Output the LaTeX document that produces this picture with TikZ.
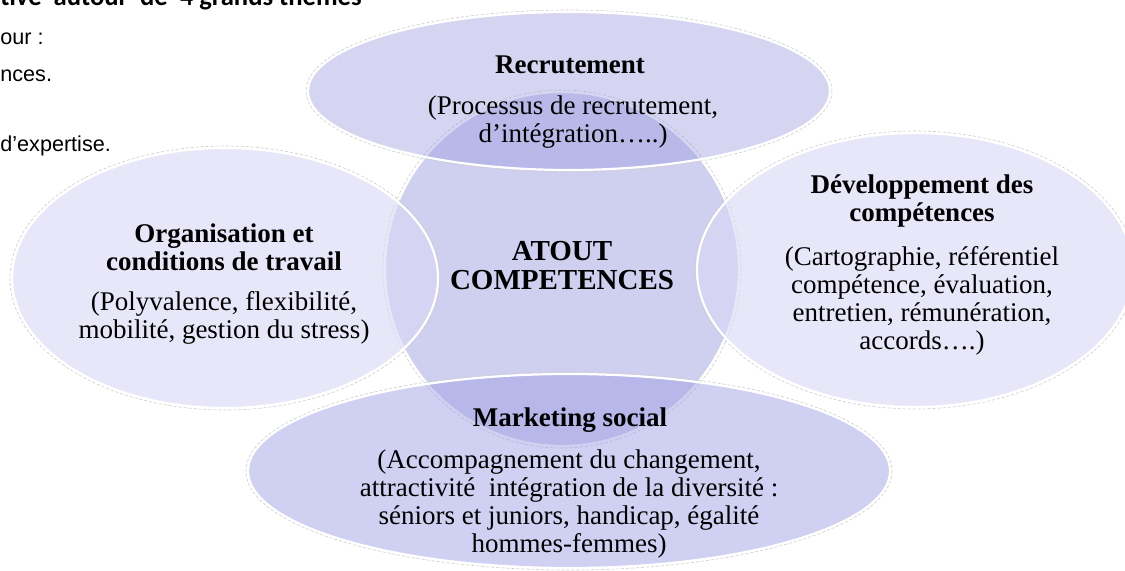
\documentclass[tikz,border=0pt]{standalone}
\usepackage{fontspec}
\setmainfont{Liberation Serif}
\newfontfamily\headfont{Carlito}
\newfontfamily\bodyfont{Liberation Sans}
\usetikzlibrary{shapes.geometric}
\definecolor{circfill}{HTML}{CFCFF0}
\definecolor{topfill}{HTML}{9C9CE0}
\definecolor{sidefill}{HTML}{D9D9F5}
\definecolor{botfill}{HTML}{A1A1E5}
\begin{document}
\begin{tikzpicture}[x=0.5pt,y=-0.5pt,
  blob/.style={ellipse, inner sep=0pt, outer sep=0pt, draw=white, line width=1.1pt},
  shadowline/.style={draw=gray!40, line width=0.3pt, dash pattern=on 1.5pt off 1pt},
  ttl/.style={font=\fontsize{13.5}{14}\selectfont\bfseries, align=center, inner sep=0pt},
  dsc/.style={font=\fontsize{13.5}{14}\selectfont, align=center, inner sep=0pt},
  core/.style={font=\fontsize{14.5}{14.5}\selectfont\bfseries, align=center, inner sep=0pt},
  hd/.style={font=\headfont\bfseries\fontsize{13.3}{15}\selectfont, anchor=base west, inner sep=0pt},
  bd/.style={font=\bodyfont\fontsize{10.8}{12}\selectfont, anchor=base west, inner sep=0pt}]
\useasboundingbox (0,0) rectangle (1125,571);

% partial text of the page
\node[hd] (h1) at (0,6) {tive~ autour~ de~ 4 grands thèmes};
\node[bd] (b1) at (0,45) {our :};
\node[bd] (b2) at (0,82) {nces.};
\node[bd] (b3) at (0,152) {d’expertise.};

% central circle
\node[blob, fill=circfill, minimum width=177pt, minimum height=177pt] (C) at (562,269) {};
\draw[shadowline] (C.center) ellipse [x radius=179, y radius=179];

% top ellipse
\node[blob, fill=topfill, fill opacity=0.42, minimum width=261pt, minimum height=79pt] (T) at (569,91) {};
\draw[shadowline] (T.center) ellipse [x radius=263, y radius=81];

% left ellipse
\node[blob, fill=sidefill, fill opacity=0.62, minimum width=213pt, minimum height=130pt] (L) at (225,278) {};
\draw[shadowline] (L.center) ellipse [x radius=215, y radius=132];

% right ellipse
\node[blob, fill=sidefill, fill opacity=0.62, minimum width=218pt, minimum height=137pt] (R) at (915,270) {};
\draw[shadowline] (R.center) ellipse [x radius=220, y radius=139];

% bottom ellipse
\node[blob, fill=botfill, fill opacity=0.5, minimum width=321pt, minimum height=97pt] (B) at (569,471) {};
\draw[shadowline] (B.center) ellipse [x radius=323, y radius=99];

% texts
\node[ttl] (tT) at (570,65) {Recrutement};
\node[dsc] (dT) at (573,122) {(Processus de recrutement,\\ d’intégration…..)};

\node[ttl] (tL) at (224,247) {Organisation et\\ conditions de travail};
\node[dsc] (dL) at (224,318) {(Polyvalence, flexibilité,\\ mobilité, gestion du stress)};

\node[ttl] (tR) at (922,201) {Développement des\\ compétences};
\node[dsc] (dR) at (922,301) {(Cartographie, référentiel\\ compétence, évaluation,\\ entretien, rémunération,\\ accords….)};

\node[core] (tC) at (562,266) {ATOUT\\ COMPETENCES};

\node[ttl] (tB) at (570,420) {Marketing social};
\node[dsc] (dB) at (569,504) {(Accompagnement du changement,\\ attractivité~ intégration de la diversité :\\ séniors et juniors, handicap, égalité\\ hommes-femmes)};
\end{tikzpicture}
\end{document}
